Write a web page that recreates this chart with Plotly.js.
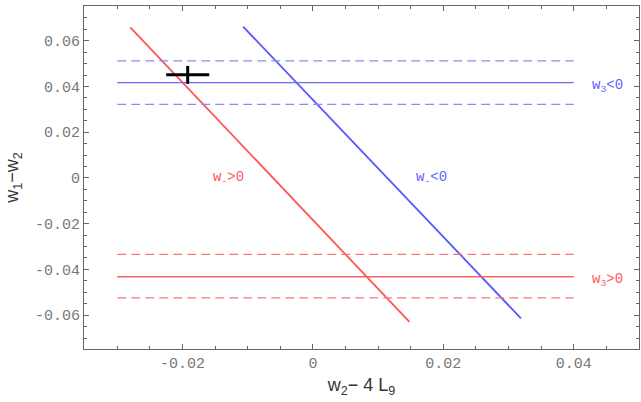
<!DOCTYPE html>
<html>
<head>
<meta charset="utf-8">
<script src="https://cdn.plot.ly/plotly-3.0.1.min.js"></script>
<style>html,body{margin:0;padding:0;background:#fff;}#chart{width:641px;height:402px;}</style>
</head>
<body>
<div id="chart"></div>
<script>
// Diagonal constraint lines (w- > 0 red, w- < 0 blue)
var redDiagX = [-0.0280, 0.0148];
var redDiagY = [0.0658, -0.0629];
var blueDiagX = [-0.0107, 0.0319];
var blueDiagY = [0.0662, -0.0614];

// Horizontal bands (w3 < 0 blue, w3 > 0 red)
var bandX = [-0.030, 0.040];
var blueBand = {center: 0.0417, upper: 0.0512, lower: 0.0322};
var redBand = {center: -0.0432, upper: -0.0334, lower: -0.0524};

// Measured point with errors
var pointX = [-0.0192];
var pointY = [0.0451];
var pointErrX = [0.0033];
var pointErrY = [0.0039];

// Ticks
var xTickVals = [-0.02, 0, 0.02, 0.04];
var xTickText = ["-0.02", "0", "0.02", "0.04"];
var yTickVals = [-0.06, -0.04, -0.02, 0, 0.02, 0.04, 0.06];
var yTickText = ["-0.06", "-0.04", "-0.02", "0", "0.02", "0.04", "0.06"];

// Region labels
var labelText = ["w<sub>-</sub>&gt;0", "w<sub>-</sub>&lt;0", "w<sub>3</sub>&lt;0", "w<sub>3</sub>&gt;0"];
var labelX = [-0.0130, 0.0182, 0.0452, 0.0452];
var labelY = [0.0000, 0.0000, 0.0400, -0.0445];
var labelColor = ["rgb(255,90,90)", "rgb(100,100,255)", "rgb(100,100,255)", "rgb(255,90,90)"];

var RED = "rgb(255,85,85)";
var BLUE = "rgb(85,85,255)";

function hline(y, color, dash, w) {
  return {x: bandX, y: [y, y], mode: "lines", line: {color: color, width: w, dash: dash}, hoverinfo: "skip"};
}

var traces = [
  {x: redDiagX, y: redDiagY, mode: "lines", line: {color: RED, width: 1.8}},
  {x: blueDiagX, y: blueDiagY, mode: "lines", line: {color: BLUE, width: 1.8}},
  hline(blueBand.center, "rgb(110,110,245)", "solid", 1.3),
  hline(blueBand.upper, "rgb(140,140,245)", "9px,5px", 1.3),
  hline(blueBand.lower, "rgb(140,140,245)", "9px,5px", 1.3),
  hline(redBand.center, "rgb(245,100,100)", "solid", 1.3),
  hline(redBand.upper, "rgb(245,120,120)", "9px,5px", 1.3),
  hline(redBand.lower, "rgb(245,120,120)", "9px,5px", 1.3),
  {x: pointX, y: pointY, mode: "markers", marker: {size: 1, color: "black"},
   error_x: {type: "data", array: pointErrX, visible: true, color: "black", thickness: 3, width: 0},
   error_y: {type: "data", array: pointErrY, visible: true, color: "black", thickness: 3, width: 0}}
];

var annotations = labelText.map(function (t, i) {
  return {x: labelX[i], y: labelY[i], xref: "x", yref: "y", text: t, showarrow: false,
          font: {family: "Liberation Mono, monospace", size: 14, color: labelColor[i]}};
});

var axisCommon = {
  showgrid: false, zeroline: false, showline: true, linecolor: "#666", linewidth: 1,
  mirror: "allticks", ticks: "inside", ticklen: 5, tickcolor: "#666", tickwidth: 1,
  tickmode: "array",
  tickfont: {family: "Liberation Mono, monospace", size: 15, color: "#777"},
  minor: {tickmode: "linear", tick0: 0, dtick: 0.005, ticks: "inside", ticklen: 3, tickcolor: "#666", tickwidth: 1, showgrid: false}
};

var layout = {
  width: 641, height: 402,
  margin: {l: 84, r: 2, t: 6, b: 53},
  paper_bgcolor: "#fff", plot_bgcolor: "#fff",
  showlegend: false,
  xaxis: Object.assign({}, axisCommon, {
    range: [-0.0351, 0.0500], tickvals: xTickVals, ticktext: xTickText,
    title: {text: "w<sub>2</sub>\u2212 4 L<sub>9</sub>", font: {family: "Liberation Sans, Arial, sans-serif", size: 18, color: "#333"}, standoff: 6}
  }),
  yaxis: Object.assign({}, axisCommon, {
    range: [-0.0748, 0.0752], tickvals: yTickVals, ticktext: yTickText,
    title: {text: "w<sub>1</sub>\u2212w<sub>2</sub>", font: {family: "Liberation Sans, Arial, sans-serif", size: 18, color: "#333"}, standoff: 11}
  }),
  annotations: annotations
};

Plotly.newPlot("chart", traces, layout, {displayModeBar: false, staticPlot: true});
</script>
</body>
</html>
